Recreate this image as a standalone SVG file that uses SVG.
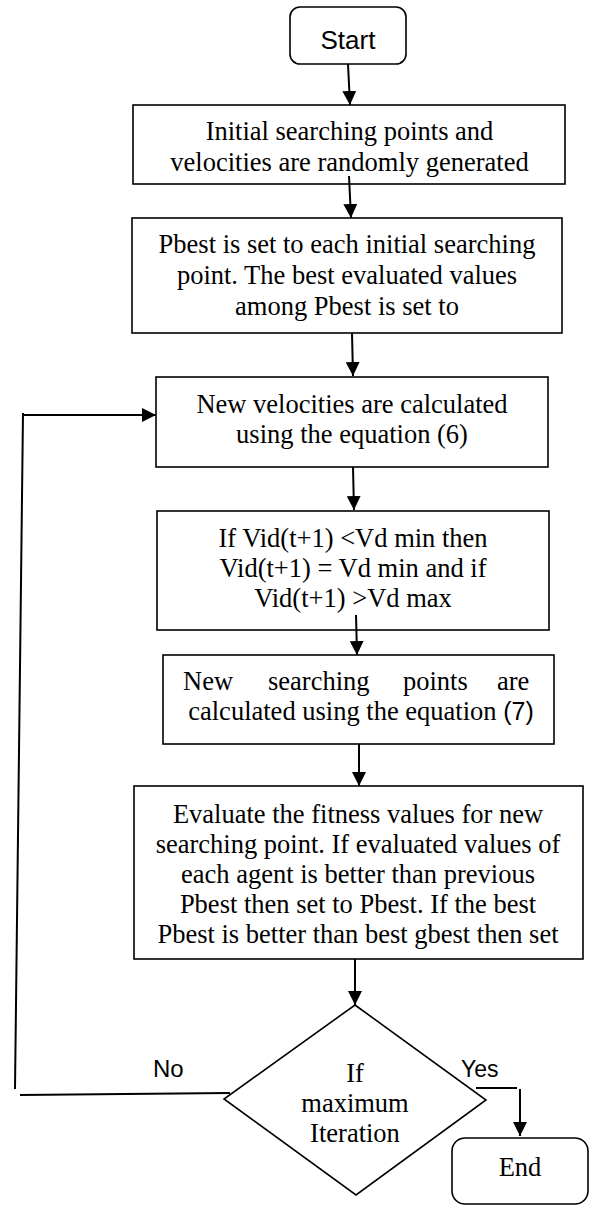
<svg xmlns="http://www.w3.org/2000/svg" width="596" height="1208" viewBox="0 0 596 1208">
<style>
.box{fill:#fff;stroke:#000;stroke-width:1.6}
.t{font-family:"Liberation Serif","Times New Roman",serif;font-size:26.5px;fill:#000;text-anchor:middle}
.tl{font-family:"Liberation Serif","Times New Roman",serif;font-size:26.5px;fill:#000;text-anchor:start}
.s{font-family:"Liberation Sans",Arial,sans-serif;fill:#000}
.c{fill:none;stroke:#000;stroke-width:2}
.ca{fill:none;stroke:#000;stroke-width:2;marker-end:url(#ah)}
</style>
<defs>
<marker id="ah" viewBox="0 0 14 14" refX="14" refY="7" markerWidth="14" markerHeight="14" markerUnits="userSpaceOnUse" orient="auto">
<path d="M0,0 L14,7 L0,14 z" fill="#000"/>
</marker>
</defs>
<g id="start">
<rect class="box" x="290" y="7" width="116" height="57" rx="10"/>
<text class="s" x="348" y="49" font-size="26" text-anchor="middle">Start</text>
</g>
<g id="init">
<rect class="box" x="133" y="105" width="432" height="79"/>
<text class="t" x="349.5" y="140">Initial searching points and</text>
<text class="t" x="349.5" y="171">velocities are randomly generated</text>
</g>
<g id="pbest">
<rect class="box" x="132" y="218" width="430" height="115"/>
<text class="t" x="347" y="253">Pbest is set to each initial searching</text>
<text class="t" x="347" y="284">point. The best evaluated values</text>
<text class="t" x="347" y="315">among Pbest is set to</text>
</g>
<g id="velocity">
<rect class="box" x="156" y="377" width="392" height="90"/>
<text class="t" x="352" y="413">New velocities are calculated</text>
<text class="t" x="352" y="443">using the equation (6)</text>
</g>
<g id="limit">
<rect class="box" x="157" y="511" width="392" height="119"/>
<text class="t" x="353" y="547">If Vid(t+1) &lt;Vd min then</text>
<text class="t" x="353" y="577">Vid(t+1) = Vd min and if</text>
<text class="t" x="353" y="607">Vid(t+1) &gt;Vd max</text>
</g>
<g id="points">
<rect class="box" x="163" y="655" width="391" height="89"/>
<text class="tl" y="690"><tspan x="183">New</tspan><tspan x="268">searching</tspan><tspan x="403">points</tspan><tspan x="497">are</tspan></text>
<text class="t" x="361" y="720">calculated using the equation <tspan font-family="'Liberation Sans',Arial,sans-serif" font-size="25">(7)</tspan></text>
</g>
<g id="evaluate">
<rect class="box" x="134" y="786" width="449" height="173"/>
<text class="t" x="358" y="823">Evaluate the fitness values for new</text>
<text class="t" x="358" y="853">searching point. If evaluated values of</text>
<text class="t" x="358" y="883">each agent is better than previous</text>
<text class="t" x="358" y="913">Pbest then set to Pbest. If the best</text>
<text class="t" x="358" y="943">Pbest is better than best gbest then set</text>
</g>
<g id="decision">
<polygon class="box" points="355,1005 486,1100 356,1195 224,1099"/>
<text class="t" x="355" y="1082">If</text>
<text class="t" x="355" y="1112">maximum</text>
<text class="t" x="355" y="1142">Iteration</text>
</g>
<g id="end">
<rect class="box" x="452" y="1138" width="136" height="66" rx="13"/>
<text class="t" x="520" y="1176">End</text>
</g>
<g id="connectors">
<line class="ca" x1="348" y1="64" x2="350" y2="105"/>
<line class="ca" x1="349" y1="176" x2="351" y2="218"/>
<line class="ca" x1="352" y1="333" x2="353" y2="376"/>
<line class="ca" x1="353" y1="467" x2="354" y2="510"/>
<line class="ca" x1="356" y1="615" x2="357" y2="655"/>
<line class="ca" x1="359" y1="744" x2="359" y2="786"/>
<line class="ca" x1="355" y1="959" x2="355" y2="1005"/>
<line class="c" x1="476" y1="1088" x2="517" y2="1088"/>
<line class="ca" x1="520" y1="1089" x2="520" y2="1136"/>
<line class="c" x1="230" y1="1093" x2="20" y2="1095"/>
<line class="c" x1="15" y1="1089" x2="23" y2="413"/>
<line class="ca" x1="22" y1="415" x2="156" y2="415"/>
<text class="s" x="153" y="1077" font-size="24">No</text>
<text class="s" x="461" y="1077" font-size="23">Yes</text>
</g>
</svg>
